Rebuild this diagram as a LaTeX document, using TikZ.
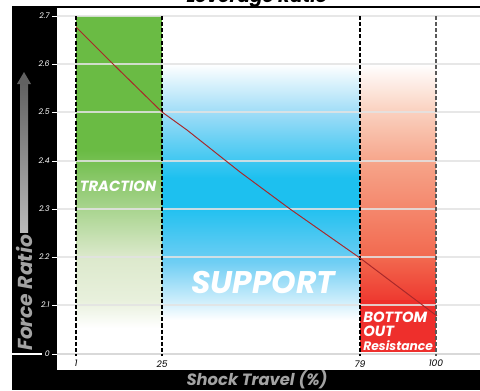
\documentclass[tikz,border=0pt]{standalone}
\usepackage{fontspec}
\setmainfont{Poppins}
\definecolor{tgreen}{HTML}{6ABB44}
\definecolor{lgreenA}{HTML}{DCE9CC}
\definecolor{lgreenB}{HTML}{E8F0DC}
\definecolor{blueA}{HTML}{9ADBF7}
\definecolor{blueB}{HTML}{1DC0EF}
\definecolor{blueC}{HTML}{6FCEF4}
\definecolor{blueD}{HTML}{CBEDFB}
\definecolor{redA}{HTML}{FAD0BE}
\definecolor{redB}{HTML}{F6A287}
\definecolor{redC}{HTML}{F2694F}
\definecolor{redD}{HTML}{EE3A30}
\definecolor{redE}{HTML}{EE2F2C}
\definecolor{curve}{HTML}{A8282A}
\definecolor{labgray}{HTML}{A3A3A3}
\begin{document}
\begin{tikzpicture}[x=0.02cm,y=-0.02cm,
  grid/.style={draw=gray!22,line width=0.6pt,opacity=0.85},
  vdash/.style={draw=black,line width=0.6pt,dash pattern=on 2.3pt off 1.2pt},
  ylab/.style={text=white,font=\fontsize{4.4}{4}\selectfont\itshape,anchor=east,inner sep=0pt},
  xlab/.style={text=black,font=\fontsize{5.2}{5}\selectfont\itshape,anchor=north,inner sep=0pt},
  bandtxt/.style={text=white,font=\bfseries\itshape,inner sep=0pt}]
\useasboundingbox (0,0) rectangle (480,390);
% title (cut off at top)
\node[anchor=base,font=\fontsize{10.5}{10}\selectfont\bfseries\itshape,inner sep=0pt] (title) at (257,2.2) {Leverage Ratio};
% frame
\fill[black] (12,5.5) rectangle (480,7.5);
\fill[black] (12,7) rectangle (57,390);
\fill[black] (12,370) rectangle (480,390);
% green band
\fill[tgreen] (76,16) rectangle (162,150);
\shade[top color=tgreen,bottom color=lgreenA] (76,150) rectangle (162,257);
\shade[top color=lgreenA,bottom color=lgreenB] (76,257) rectangle (162,300);
\shade[top color=lgreenB,bottom color=white] (76,300) rectangle (162,328);
% blue band
\shade[top color=white,bottom color=blueA] (162,64) rectangle (360,115);
\shade[top color=blueA,bottom color=blueB] (162,115) rectangle (360,178);
\fill[blueB] (162,178) rectangle (360,205);
\shade[top color=blueB,bottom color=blueC] (162,205) rectangle (360,262);
\shade[top color=blueC,bottom color=blueD] (162,262) rectangle (360,300);
\shade[top color=blueD,bottom color=white] (162,300) rectangle (360,320);
% red band
\shade[top color=white,bottom color=redA] (360,64) rectangle (436,112);
\shade[top color=redA,bottom color=redB] (360,112) rectangle (436,165);
\shade[top color=redB,bottom color=redC] (360,165) rectangle (436,257);
\shade[top color=redC,bottom color=redD] (360,257) rectangle (436,300);
\fill[redE] (360,300) rectangle (436,352);
% grid lines
\foreach \yy in {16,64,112,161,209,257,305}{\draw[grid] (57,\yy) -- (480,\yy);}
\draw[draw=gray!30,line width=1.2pt] (57,354) -- (480,354);
% y ticks
\foreach \yy/\lab in {16/2.7,64/2.6,112/2.5,161/2.4,209/2.3,257/2.2,305/2.1,354/0}{
  \draw[white,line width=0.5pt] (52,\yy) -- (57,\yy);
  \node[ylab] at (50,\yy) {\lab};}
\draw[white,line width=0.6pt] (12,354) -- (42,354);
% dashed verticals
\draw[vdash] (76,16) -- (76,356);
\draw[vdash] (162,16) -- (162,356);
\draw[vdash] (360,16) -- (360,356);
\draw[vdash,draw=black!65,line width=0.8pt] (436,16) -- (436,356);
% x tick labels
\foreach \xx/\lab in {76/1,162/25,360/79,436/100}{\node[xlab] at (\xx,360) {\lab};}
% curve
\draw[curve,line width=0.55pt,line join=round] (76,27) -- (112,63) -- (162,112) -- (187,130) -- (240,172) -- (290,209) -- (360,258) -- (437,316);
% band labels
\node[bandtxt,font=\fontsize{8.4}{8}\selectfont\bfseries\itshape] (traction) at (118,186) {TRACTION};
\node[bandtxt,font=\fontsize{17.8}{17}\selectfont\bfseries\itshape] (support) at (263,282) {SUPPORT};
\node[bandtxt,anchor=north west,align=left,font=\fontsize{8.4}{7.9}\selectfont\bfseries\itshape] (bottom) at (363,312) {BOTTOM\\OUT\\{\fontsize{7}{7.9}\selectfont Resistance}};
% axis titles
\node[text=labgray,font=\fontsize{9.3}{9}\selectfont\bfseries\itshape,inner sep=0pt] (xtitle) at (257,380) {Shock Travel (\%)};
\node[text=labgray,font=\fontsize{11.5}{11}\selectfont\bfseries\itshape,inner sep=0pt,rotate=90] (ytitle) at (24,293) {Force Ratio};
% arrow
\shade[top color=black!62,bottom color=black!27] (20,83) rectangle (28,232);
\fill[black!62] (24,72) -- (17,84) -- (31,84) -- cycle;
\end{tikzpicture}
\end{document}
